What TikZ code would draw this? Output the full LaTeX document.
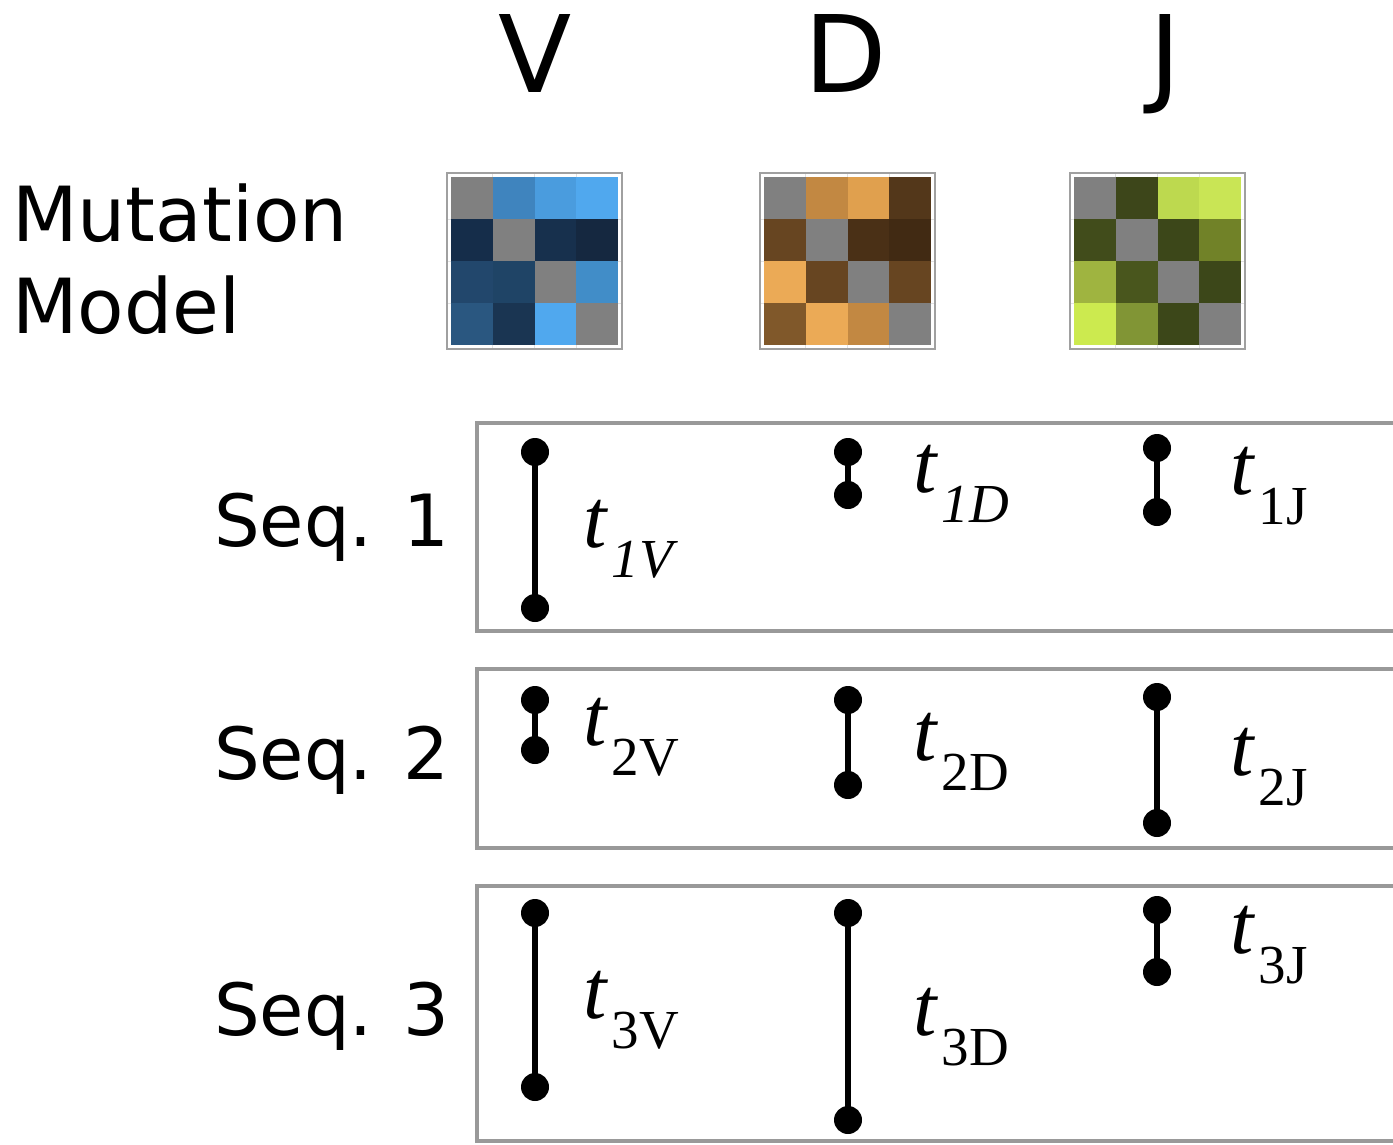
\documentclass[tikz,border=0pt]{standalone}
\usepackage{fontspec}
\setmainfont{DejaVu Sans}
\newfontfamily\serifx{Liberation Serif}
\definecolor{boxgray}{HTML}{999999}
\definecolor{framegray}{HTML}{A0A0A0}
\definecolor{gridgray}{HTML}{E2E2E2}
\newcommand{\heatmap}[3]{%
  \foreach \k in {1,2,3} {
    \draw[gridgray, line width=0.8] (#1+\k*41.75,#2-4) -- (#1+\k*41.75,#2+172);
    \draw[gridgray, line width=0.8] (#1-4,#2+\k*42) -- (#1+171,#2+\k*42);
  }
  \foreach \c [count=\k from 0] in {#3} {
    \pgfmathtruncatemacro{\ci}{mod(\k,4)}
    \pgfmathtruncatemacro{\cj}{\k/4}
    \definecolor{cellc}{HTML}{\c}
    \fill[cellc] (#1+\ci*41.75,#2+\cj*42) rectangle ++(41.75,42);
  }
  \draw[framegray, line width=1.3] (#1-4,#2-4) rectangle (#1+171,#2+172);
}
\newcommand{\tlab}[2]{{\serifx\itshape\fontsize{84}{84}\selectfont t}\kern5pt\raisebox{-30pt}{\serifx\fontsize{55}{55}\selectfont #1#2}}
\tikzset{
  dot/.style={circle, fill=black, inner sep=0pt, minimum size=28pt},
  bar/.style={line width=6pt},
  seqbox/.style={draw=boxgray, line width=4pt},
  tl/.style={anchor=base west, inner sep=0pt},
  seqlab/.style={anchor=base west, inner sep=0pt, font=\fontsize{72}{72}\selectfont},
  genelab/.style={anchor=base, inner sep=0pt, font=\fontsize{107}{107}\selectfont}
}
\begin{document}
\begin{tikzpicture}[x=1pt,y=-1pt]
\useasboundingbox (0,0) rectangle (1393,1145);
% headers
\node[genelab] (hV) at (535,93) {V};
\node[genelab] (hD) at (846,93) {D};
\node[genelab] (hJ) at (1165,93) {J};
\node[anchor=base west, inner sep=0pt, align=left, font=\fontsize{76}{92}\selectfont] (mm) at (12,333) {Mutation\\Model};
% heatmaps
\heatmap{451}{177}{808080,3F84BE,4A9CDE,50A8EE,152D4A,808080,17304D,152840,22476C,1F4466,808080,418DC8,2A5780,1A3552,50A8EE,808080}
\heatmap{764}{177}{808080,C28842,E0A04E,53371A,674521,808080,4A3016,412A13,EBAA56,674521,808080,674521,80582A,EBAA56,C28842,808080}
\heatmap{1074}{177}{808080,3D461A,BDD94F,C9E555,414C1B,808080,3C4719,718228,9FB440,49561D,808080,3C4719,CCEA4F,819535,3C4719,808080}
% sequence boxes
\draw[seqbox] (477,423) rectangle (1405,631);
\draw[seqbox] (477,669) rectangle (1405,848);
\draw[seqbox] (477,886) rectangle (1405,1141);
\node[seqlab] (s1) at (214,546) {Seq. 1};
\node[seqlab] (s2) at (214,779) {Seq. 2};
\node[seqlab] (s3) at (214,1035) {Seq. 3};
% dumbbells
\node[dot] (a1) at (535,452) {}; \node[dot] (b1) at (535,608) {};
\node[dot] (a2) at (848,452) {}; \node[dot] (b2) at (848,495) {};
\node[dot] (a3) at (1157,448) {}; \node[dot] (b3) at (1157,512) {};
\node[dot] (a4) at (535,700) {}; \node[dot] (b4) at (535,750) {};
\node[dot] (a5) at (848,700) {}; \node[dot] (b5) at (848,785) {};
\node[dot] (a6) at (1157,697) {}; \node[dot] (b6) at (1157,823) {};
\node[dot] (a7) at (535,913) {}; \node[dot] (b7) at (535,1087) {};
\node[dot] (a8) at (848,913) {}; \node[dot] (b8) at (848,1120) {};
\node[dot] (a9) at (1157,910) {}; \node[dot] (b9) at (1157,972) {};
\foreach \i in {1,...,9} \draw[bar] (a\i.center) -- (b\i.center);
% labels
\node[tl] (l1) at (583,547) {\tlab{\itshape 1}{V}};
\node[tl] (l2) at (913,492) {\tlab{\itshape 1}{D}};
\node[tl] (l3) at (1230,494) {\tlab{1}{J}};
\node[tl] (l4) at (583,745) {\tlab{2}{V}};
\node[tl] (l5) at (913,760) {\tlab{2}{D}};
\node[tl] (l6) at (1230,775) {\tlab{2}{J}};
\node[tl] (l7) at (583,1018) {\tlab{3}{V}};
\node[tl] (l8) at (913,1035) {\tlab{3}{D}};
\node[tl] (l9) at (1230,953) {\tlab{3}{J}};
\end{tikzpicture}
\end{document}
